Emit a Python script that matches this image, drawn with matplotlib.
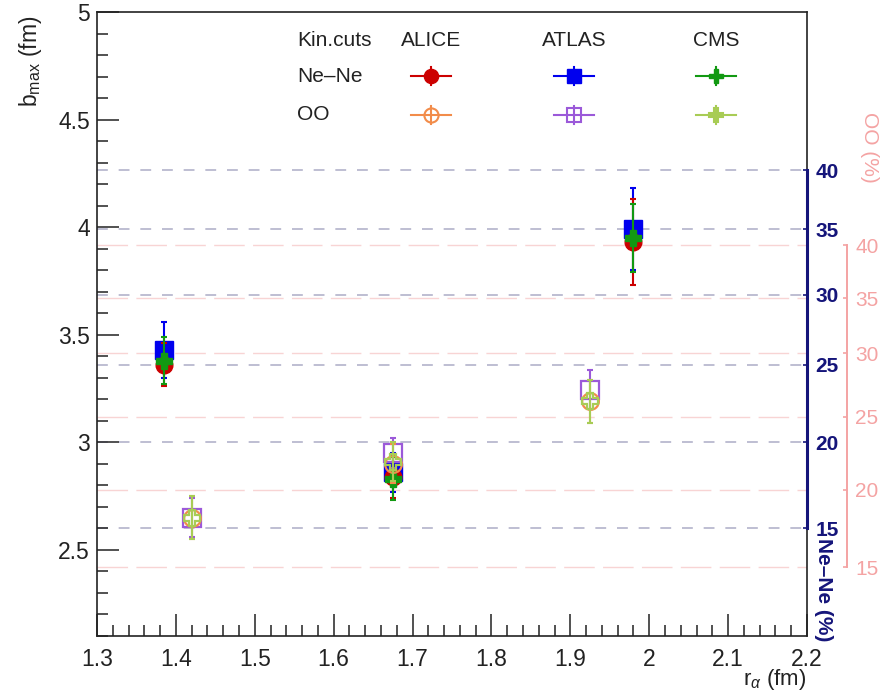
import numpy as np
import matplotlib
matplotlib.use('Agg')
import matplotlib.pyplot as plt
from matplotlib.ticker import MultipleLocator
from matplotlib.lines import Line2D

plt.rcParams['font.family'] = ['Liberation Sans', 'DejaVu Sans']
plt.rcParams['mathtext.fontset'] = 'custom'
plt.rcParams['mathtext.rm'] = 'Liberation Sans'
plt.rcParams['mathtext.it'] = 'Liberation Sans:italic'

# ---------------- data ----------------
r_nene = [1.385, 1.675, 1.98]
r_oo = [1.42, 1.675, 1.925]

nene_alice = [3.36, 2.84, 3.93]
nene_alice_err = [0.10, 0.10, 0.20]
nene_atlas = [3.43, 2.86, 3.99]
nene_atlas_err = [0.13, 0.09, 0.19]
nene_cms = [3.38, 2.83, 3.95]
nene_cms_err = [0.11, 0.10, 0.16]

oo_alice = [2.65, 2.90, 3.19]
oo_alice_err = [0.10, 0.09, 0.10]
oo_atlas = [2.65, 2.95, 3.245]
oo_atlas_err = [0.09, 0.07, 0.09]
oo_cms = [2.65, 2.91, 3.19]
oo_cms_err = [0.10, 0.09, 0.10]

# centrality axes: percent labels and their b_max positions
nene_pct = ['15', '20', '25', '30', '35', '40']
nene_pct_b = [2.60, 3.00, 3.36, 3.685, 3.99, 4.265]
oo_pct = ['15', '20', '25', '30', '35', '40']
oo_pct_b = [2.42, 2.78, 3.12, 3.415, 3.67, 3.915]

experiments = ['ALICE', 'ATLAS', 'CMS']

# ---------------- styles ----------------
W, H = 889, 693
NAVY = '#15157a'
PINK = '#f4a3a3'
c_nene = {'ALICE': '#cc0000', 'ATLAS': '#0000ee', 'CMS': '#129912'}
c_oo = {'ALICE': '#f28c4a', 'ATLAS': '#9b59d9', 'CMS': '#a8cc55'}
mk = {'ALICE': 'o', 'ATLAS': 's', 'CMS': 'P'}
ms = {'ALICE': 12, 'ATLAS': 12.5, 'CMS': 12}
TXT = '#222222'

fig = plt.figure(figsize=(W / 100, H / 100), dpi=100)
L, R, T, B = 97, 807, 12, 636
ax = fig.add_axes([L / W, 1 - B / H, (R - L) / W, (B - T) / H])
ax.set_xlim(1.3, 2.2)
ax.set_ylim(2.1, 5.0)

for s in ax.spines.values():
    s.set_color(TXT)
    s.set_linewidth(1.2)

ax.xaxis.set_major_locator(MultipleLocator(0.1))
ax.xaxis.set_minor_locator(MultipleLocator(0.02))
ax.yaxis.set_major_locator(MultipleLocator(0.5))
ax.yaxis.set_minor_locator(MultipleLocator(0.1))
ax.tick_params(which='both', direction='in', top=False, right=False,
               colors=TXT, width=1.1, labelsize=16.5)
ax.tick_params(which='major', length=16)
ax.tick_params(which='minor', length=8)
ax.tick_params(axis='x', which='major', pad=9)
ax.tick_params(axis='y', which='major', pad=5)
fmt = matplotlib.ticker.FuncFormatter(lambda v, p: f'{v:g}')
ax.xaxis.set_major_formatter(fmt)
ax.yaxis.set_major_formatter(fmt)

# gridlines
for b in nene_pct_b:
    ax.axhline(b, color='#b9b9cf', lw=1.3, ls=(0, (6, 6)), zorder=0.5)
for b in oo_pct_b:
    ax.axhline(b, color='#f8d4d4', lw=1.0, ls=(0, (22, 6)), zorder=0.4)

# data
def draw(r, y, e, color, marker, size, filled, z):
    ax.errorbar(r, y, yerr=e, fmt='none', ecolor=color, elinewidth=1.5,
                capsize=2, capthick=1.5, zorder=z)
    ax.plot(r, y, ls='none', marker=marker, ms=size,
            mfc=color if filled else 'none', mec=color,
            mew=1.0 if filled else 1.6, zorder=z + 0.1)

draw(r_nene, nene_atlas, nene_atlas_err, c_nene['ATLAS'], mk['ATLAS'], ms['ATLAS'], True, 3)
draw(r_nene, nene_alice, nene_alice_err, c_nene['ALICE'], mk['ALICE'], ms['ALICE'], True, 3.2)
draw(r_nene, nene_cms, nene_cms_err, c_nene['CMS'], mk['CMS'], ms['CMS'], True, 3.4)
draw(r_oo, oo_atlas, oo_atlas_err, c_oo['ATLAS'], mk['ATLAS'], ms['ATLAS'], False, 4)
draw(r_oo, oo_alice, oo_alice_err, c_oo['ALICE'], mk['ALICE'], ms['ALICE'], False, 4.2)
draw(r_oo, oo_cms, oo_cms_err, c_oo['CMS'], mk['CMS'], ms['CMS'], False, 4.4)

# Ne-Ne centrality axis (navy)
ax2 = ax.twinx()
ax2.set_ylim(ax.get_ylim())
for k in ['top', 'bottom', 'left']:
    ax2.spines[k].set_visible(False)
ax2.spines['right'].set_color(NAVY)
ax2.spines['right'].set_linewidth(2.2)
ax2.spines['right'].set_bounds(nene_pct_b[0], nene_pct_b[-1])
ax2.set_yticks(nene_pct_b, nene_pct)
ax2.tick_params(axis='y', direction='in', length=3, width=1.2, color=NAVY,
                labelcolor=NAVY, labelsize=15, pad=6)
for t in ax2.get_yticklabels():
    t.set_fontweight('bold')

# OO centrality axis (pink)
ax3 = ax.twinx()
ax3.set_ylim(ax.get_ylim())
for k in ['top', 'bottom', 'left']:
    ax3.spines[k].set_visible(False)
ax3.spines['right'].set_position(('axes', (847 - L) / (R - L)))
ax3.spines['right'].set_color(PINK)
ax3.spines['right'].set_linewidth(1.4)
ax3.spines['right'].set_bounds(oo_pct_b[0], oo_pct_b[-1])
ax3.set_yticks(oo_pct_b, oo_pct)
ax3.tick_params(axis='y', direction='in', length=3, width=1.2, color=PINK,
                labelcolor=PINK, labelsize=15, pad=6)

# axis titles
fig.text(30 / W, 1 - 16 / H, r'b$_{\mathrm{max}}$ (fm)', rotation=90,
         ha='center', va='top', fontsize=16.5, color=TXT)
fig.text(806 / W, 1 - 692 / H, r'r$_{\alpha}$ (fm)', ha='right', va='bottom',
         fontsize=16, color=TXT)
fig.text(824 / W, 1 - 641 / H, 'Ne–Ne (%)', rotation=270, ha='center',
         va='bottom', fontsize=15, fontweight='bold', color=NAVY)
fig.text(869 / W, 1 - 112 / H, 'OO (%)', rotation=270, ha='center',
         va='top', fontsize=15, color=PINK)

# legend (drawn in figure pixel coordinates)
def fx(px):
    return px / W

def fy(py):
    return 1 - py / H

LF = 15
fig.text(fx(297), fy(40), 'Kin.cuts', ha='left', va='center', fontsize=LF, color=TXT)
fig.text(fx(297), fy(76), 'Ne–Ne', ha='left', va='center', fontsize=LF, color=TXT)
fig.text(fx(297), fy(115), 'OO', ha='left', va='center', fontsize=LF, color=TXT)
leg_x = {'ALICE': 431, 'ATLAS': 574, 'CMS': 716}
for ex in experiments:
    fig.text(fx(leg_x[ex]), fy(40), ex, ha='center', va='center', fontsize=LF, color=TXT)
    for py, cols, filled in [(76, c_nene, True), (115, c_oo, False)]:
        cx = leg_x[ex]
        fig.add_artist(Line2D([fx(cx - 20), fx(cx + 20)], [fy(py), fy(py)],
                              color=cols[ex], lw=1.5, transform=fig.transFigure))
        fig.add_artist(Line2D([fx(cx), fx(cx)], [fy(py - 9), fy(py + 9)],
                              color=cols[ex], lw=1.5, transform=fig.transFigure))
        fig.add_artist(Line2D([fx(cx)], [fy(py)], ls='none', marker=mk[ex],
                              ms=ms[ex] * 0.85, mfc=cols[ex] if filled else 'none',
                              mec=cols[ex], mew=1.0 if filled else 1.5,
                              transform=fig.transFigure))

fig.savefig('out.png', dpi=100)
